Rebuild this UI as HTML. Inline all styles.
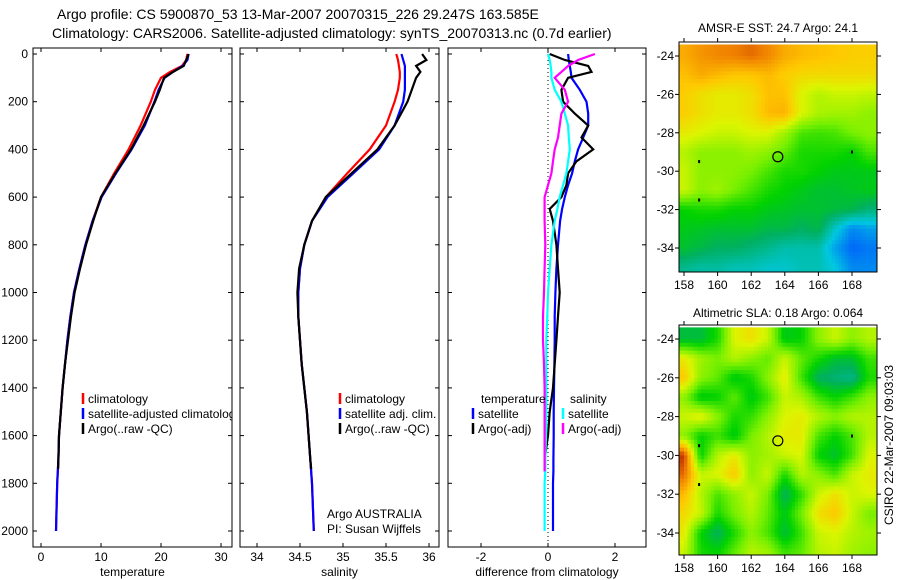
<!DOCTYPE html>
<html><head><meta charset="utf-8"><style>
body{margin:0;background:#fff;}
svg{display:block;font-family:"Liberation Sans",sans-serif;}
</style></head><body>
<svg id="c" width="900" height="580" viewBox="0 0 900 580" xmlns="http://www.w3.org/2000/svg">
<text x="57" y="19" font-size="14">Argo profile: CS 5900870_53 13-Mar-2007 20070315_226 29.247S 163.585E</text>
<text x="52" y="38" font-size="14">Climatology: CARS2006. Satellite-adjusted climatology: synTS_20070313.nc (0.7d earlier)</text>
<text x="778" y="32" font-size="12" text-anchor="middle">AMSR-E SST: 24.7 Argo: 24.1</text>
<text x="778" y="317" font-size="12" text-anchor="middle">Altimetric SLA: 0.18 Argo: 0.064</text>
<text transform="translate(893,445) rotate(-90)" font-size="12" text-anchor="middle">CSIRO 22-Mar-2007 09:03:03</text>
<g id="g"></g>
</svg>
<script>
// ---- profile data ----
const depths=[0,25,50,75,100,150,200,300,400,500,600,700,800,900,1000,1100,1200,1300,1400,1500,1600,1700,1800,1900,2000];
const argoDepths=[0,25,50,75,100,150,200,300,400,500,600,700,800,900,1000,1100,1200,1300,1400,1500,1600,1700,1740];
const tempClim=[24.4,24.2,23.5,21.5,20.0,19.0,18.3,16.6,14.6,12.2,10.0,8.6,7.4,6.4,5.5,4.9,4.4,4.0,3.6,3.3,3.0,2.9,2.7,2.6,2.5];
const tempSat=[24.6,24.4,23.6,22.0,20.6,19.6,18.9,17.3,15.1,12.5,10.1,8.6,7.4,6.4,5.5,4.9,4.4,4.0,3.6,3.3,3.0,2.9,2.7,2.6,2.5];
const tempArgo=[24.6,24.2,23.8,22.0,20.5,19.8,19.0,17.1,15.0,12.4,10.0,8.7,7.5,6.5,5.6,5.0,4.5,4.0,3.6,3.3,3.0,2.9,2.85];
const salClim=[35.62,35.64,35.65,35.66,35.66,35.64,35.6,35.5,35.31,35.05,34.8,34.64,34.55,34.5,34.48,34.48,34.5,34.52,34.55,34.58,34.6,34.62,34.64,34.65,34.66];
const salSat=[35.68,35.7,35.72,35.72,35.72,35.72,35.7,35.6,35.42,35.12,34.82,34.64,34.55,34.5,34.48,34.48,34.5,34.52,34.55,34.58,34.6,34.62,34.64,34.65,34.66];
const salArgo=[35.92,35.97,35.85,35.9,35.85,35.8,35.75,35.6,35.4,35.1,34.8,34.64,34.55,34.49,34.47,34.48,34.5,34.52,34.55,34.58,34.6,34.62,34.63];
const diffDepths=[0,25,50,75,100,150,200,250,300,350,400,450,500,550,600,650,700,800,900,1000,1100,1200,1300,1400,1500,1600,1700,1750,1800,1900,2000];
const dTempSat=[0.6,0.62,0.65,0.68,0.7,0.95,1.15,1.2,1.2,1.05,0.9,0.8,0.72,0.6,0.5,0.42,0.36,0.3,0.25,0.22,0.2,0.2,0.19,0.18,0.17,0.17,0.16,0.16,0.15,0.15,0.15];
const dTempArgo=[0.05,0.5,1.2,1.3,0.6,0.4,0.45,0.8,1.2,1.0,1.35,0.85,0.6,0.55,0.4,0.05,0.15,0.25,0.3,0.35,0.3,0.25,0.2,0.15,0.05,0.0,-0.1,-0.1,null,null,null];
const dSalSat=[0.0,0.05,0.08,0.1,0.1,0.2,0.4,0.5,0.6,0.62,0.65,0.6,0.55,0.45,0.35,0.28,0.2,0.1,0.05,0.0,-0.02,-0.05,-0.05,-0.05,-0.05,-0.06,-0.08,-0.08,-0.1,-0.1,-0.1];
const dSalArgo=[1.4,0.9,0.6,0.4,0.2,0.5,0.6,0.4,0.35,0.3,0.2,0.15,0.1,0.0,-0.1,-0.1,-0.1,-0.08,-0.1,-0.12,-0.15,-0.15,-0.12,-0.1,-0.1,-0.1,-0.1,-0.1,null,null,null];
const depthTicks=[0,200,400,600,800,1000,1200,1400,1600,1800,2000];
const tempTicks=[0,10,20,30];
const salTicks=[34,34.5,35,35.5,36];
const diffTicks=[-2,0,2];
// ---- map data (colormap index 0..1), rows lat -24..-35, cols lon 158..169 ----
const mapLons=[158,159,160,161,162,163,164,165,166,167,168,169];
const mapLats=[-24,-25,-26,-27,-28,-29,-30,-31,-32,-33,-34,-35];
const sstGrid=[
[0.82,0.85,0.87,0.88,0.9,0.87,0.82,0.8,0.79,0.78,0.77,0.77],
[0.79,0.82,0.8,0.78,0.78,0.8,0.77,0.75,0.75,0.75,0.75,0.75],
[0.77,0.74,0.72,0.72,0.74,0.79,0.79,0.7,0.66,0.68,0.68,0.67],
[0.77,0.74,0.72,0.72,0.74,0.8,0.81,0.7,0.65,0.64,0.64,0.62],
[0.72,0.7,0.68,0.68,0.7,0.7,0.64,0.56,0.55,0.56,0.6,0.62],
[0.66,0.62,0.62,0.62,0.64,0.62,0.58,0.52,0.52,0.52,0.5,0.56],
[0.68,0.62,0.62,0.62,0.6,0.56,0.52,0.52,0.5,0.48,0.48,0.48],
[0.68,0.62,0.64,0.6,0.56,0.52,0.5,0.48,0.46,0.46,0.47,0.48],
[0.5,0.52,0.52,0.5,0.5,0.48,0.47,0.46,0.46,0.45,0.44,0.4],
[0.48,0.47,0.46,0.46,0.46,0.44,0.44,0.42,0.44,0.32,0.22,0.25],
[0.46,0.44,0.42,0.42,0.4,0.38,0.35,0.35,0.35,0.25,0.18,0.2],
[0.38,0.36,0.36,0.34,0.34,0.32,0.32,0.34,0.34,0.3,0.22,0.22]];
const slaGrid=[
[0.45,0.45,0.52,0.7,0.74,0.68,0.48,0.5,0.62,0.68,0.62,0.66],
[0.72,0.64,0.6,0.66,0.62,0.58,0.68,0.58,0.52,0.46,0.46,0.55],
[0.78,0.62,0.58,0.48,0.52,0.62,0.72,0.55,0.42,0.4,0.38,0.52],
[0.62,0.48,0.5,0.58,0.48,0.55,0.68,0.65,0.55,0.5,0.55,0.62],
[0.68,0.72,0.62,0.52,0.54,0.62,0.7,0.72,0.66,0.62,0.66,0.66],
[0.62,0.5,0.55,0.48,0.6,0.66,0.72,0.72,0.56,0.5,0.56,0.66],
[0.95,0.5,0.66,0.72,0.62,0.64,0.68,0.7,0.5,0.46,0.55,0.7],
[0.9,0.68,0.7,0.78,0.62,0.68,0.52,0.66,0.62,0.56,0.68,0.72],
[0.8,0.66,0.56,0.62,0.68,0.6,0.42,0.54,0.68,0.74,0.68,0.7],
[0.75,0.68,0.52,0.6,0.66,0.58,0.48,0.6,0.74,0.78,0.68,0.6],
[0.72,0.5,0.42,0.52,0.62,0.56,0.45,0.55,0.68,0.7,0.66,0.64],
[0.68,0.52,0.5,0.58,0.66,0.64,0.55,0.58,0.66,0.68,0.64,0.62]];
const lonTicks=[158,160,162,164,166,168];
const latTicks=[-24,-26,-28,-30,-32,-34];
const argoLon=163.585, argoLat=-29.247;

const NS="http://www.w3.org/2000/svg";
const G=document.getElementById('g');
function mk(t,a,p){const e=document.createElementNS(NS,t);for(const k in a)e.setAttribute(k,a[k]);(p||G).appendChild(e);return e;}
const yD=z=>54+z*0.2385;
const panels=[
 {name:'temperature',x0:33,x1:232,fx:v=>41+v*6,ticks:tempTicks,label:'temperature'},
 {name:'salinity',x0:240,x1:439,fx:v=>257+(v-34)*86,ticks:salTicks,label:'salinity'},
 {name:'difference',x0:448,x1:646,fx:v=>548+v*33.5,ticks:diffTicks,label:'difference from climatology'}];
const PT=48,PB=547;
panels.forEach((p,i)=>{
 const f=mk('rect',{x:p.x0,y:PT,width:p.x1-p.x0,height:PB-PT,fill:'none',stroke:'#000','stroke-width':1});
 
 
 p.ticks.forEach(t=>{const x=p.fx(t);
  mk('line',{x1:x,x2:x,y1:PB,y2:PB-4,stroke:'#000'});mk('line',{x1:x,x2:x,y1:PT,y2:PT+4,stroke:'#000'});
  const tx=mk('text',{x:x,y:PB+14,'font-size':12,'text-anchor':'middle'});tx.textContent=t;
  
  });
 const xl=mk('text',{x:(p.x0+p.x1)/2,y:576,'font-size':12,'text-anchor':'middle'});xl.textContent=p.label;
 
 
 depthTicks.forEach(d=>{const y=yD(d);
  mk('line',{x1:p.x0,x2:p.x0+4,y1:y,y2:y,stroke:'#000'});mk('line',{x1:p.x1,x2:p.x1-4,y1:y,y2:y,stroke:'#000'});
  if(i===0){const tl=mk('text',{x:28,y:y+4,'font-size':12,'text-anchor':'end'});tl.textContent=d;
   
   }});
});
const z0=panels[2].fx(0);
const zl=mk('line',{x1:z0,x2:z0,y1:PT,y2:PB,stroke:'#000','stroke-dasharray':'1,3'});


function series(p,ds,vals,color,name){
 let pts=[];ds.forEach((d,i)=>{if(vals[i]!==null&&vals[i]!==undefined)pts.push(p.fx(vals[i]).toFixed(1)+','+yD(d).toFixed(1));});
 const l=mk('polyline',{points:pts.join(' '),fill:'none',stroke:color,'stroke-width':2.2});
 
 }
series(panels[0],depths,tempClim,'#f00','temp-climatology-line');
series(panels[0],depths,tempSat,'#00f','temp-satellite-line');
series(panels[0],argoDepths,tempArgo,'#000','temp-argo-line');
series(panels[1],depths,salClim,'#f00','sal-climatology-line');
series(panels[1],depths,salSat,'#00f','sal-satellite-line');
series(panels[1],argoDepths,salArgo,'#000','sal-argo-line');
series(panels[2],diffDepths,dTempSat,'#00f','diff-temp-satellite-line');
series(panels[2],diffDepths,dTempArgo,'#000','diff-temp-argo-line');
series(panels[2],diffDepths,dSalSat,'#0ff','diff-sal-satellite-line');
series(panels[2],diffDepths,dSalArgo,'#f0f','diff-sal-argo-line');
function leg(x,y,color,txt,clip){
 const b=mk('line',{x1:x,x2:x,y1:y-10,y2:y+1,stroke:color,'stroke-width':2.5});
 
 
 const t=mk('text',{x:x+5,y:y,'font-size':12});t.textContent=txt;
 
 
 if(clip)t.setAttribute('clip-path','url(#p1clip)');}
const defs=mk('defs',{});const cp=mk('clipPath',{id:'p1clip'},defs);mk('rect',{x:33,y:48,width:199,height:499},cp);
leg(83,403,'#f00','climatology');leg(83,418,'#00f','satellite-adjusted climatology',true);leg(83,433,'#000','Argo(..raw -QC)');
leg(340,403,'#f00','climatology');leg(340,418,'#00f','satellite adj. clim.');leg(340,433,'#000','Argo(..raw -QC)');
[['Argo AUSTRALIA',518],['PI: Susan Wijffels',533]].forEach(a=>{const t=mk('text',{x:327,y:a[1],'font-size':12});t.textContent=a[0];
 
 });
[['temperature',481],['salinity',570]].forEach(a=>{const t=mk('text',{x:a[1],y:403,'font-size':12});t.textContent=a[0];
 
 });
leg(473,418,'#00f','satellite');leg(473,433,'#000','Argo(-adj)');
leg(563,418,'#0ff','satellite');leg(563,433,'#f0f','Argo(-adj)');
// maps
const stops=[[0,[0,0,176]],[0.15,[0,80,255]],[0.3,[0,200,224]],[0.42,[0,176,96]],[0.5,[0,210,0]],[0.6,[120,240,0]],[0.7,[220,245,0]],[0.78,[255,200,0]],[0.88,[240,128,0]],[1,[160,0,0]]];
function cmap(v){v=Math.max(0,Math.min(1,v));for(let i=1;i<stops.length;i++){if(v<=stops[i][0]){const a=stops[i-1],b=stops[i],t=(v-a[0])/(b[0]-a[0]);
 return 'rgb('+a[1].map((c,k)=>Math.round(c+(b[1][k]-c)*t)).join(',')+')';}}return 'rgb(160,0,0)';}
function sample(grid,lo,la){
 const nc=mapLons.length,nr=mapLats.length;
 let c=lo-mapLons[0], r=mapLats[0]-la;
 c=Math.max(0,Math.min(nc-1,c)); r=Math.max(0,Math.min(nr-1,r));
 const c0=Math.min(nc-2,Math.floor(c)), r0=Math.min(nr-2,Math.floor(r));
 const fc=c-c0, fr=r-r0;
 return grid[r0][c0]*(1-fc)*(1-fr)+grid[r0][c0+1]*fc*(1-fr)+grid[r0+1][c0]*(1-fc)*fr+grid[r0+1][c0+1]*fc*fr;}
function drawMap(name,grid,bx0,by0,bx1,by1,lx,ly,sy){
 const fx=l=>lx+(l-158)*16.8, fy=l=>ly+(-24-l)*sy;
 const id=name+'clip';const c=mk('clipPath',{id:id},defs);mk('rect',{x:bx0,y:by0,width:bx1-bx0,height:by1-by0},c);
 const g=mk('g',{'clip-path':'url(#'+id+')'});
 
 
 const step=0.2;
 for(let la=mapLats[0]+0.6;la>mapLats[mapLats.length-1]-0.8;la-=step){
  for(let lo=mapLons[0]-0.6;lo<mapLons[mapLons.length-1]+0.8;lo+=step){
   const cell=mk('rect',{x:fx(lo).toFixed(1),y:fy(la).toFixed(1),width:(16.8*step+0.6).toFixed(1),height:(sy*step+0.6).toFixed(1),fill:cmap(sample(grid,lo+step/2,la-step/2))},g);
   
   }}
 const f=mk('rect',{x:bx0,y:by0,width:bx1-bx0,height:by1-by0,fill:'none',stroke:'#000'});
 
 
 lonTicks.forEach(l=>{const x=fx(l);mk('line',{x1:x,x2:x,y1:by1,y2:by1+4,stroke:'#000'});mk('line',{x1:x,x2:x,y1:by0,y2:by0-4,stroke:'#000'});
  const t=mk('text',{x:x,y:by1+17,'font-size':12,'text-anchor':'middle'});t.textContent=l;
  
  });
 latTicks.forEach(l=>{const y=fy(l);mk('line',{x1:bx0,x2:bx0-4,y1:y,y2:y,stroke:'#000'});mk('line',{x1:bx1,x2:bx1+4,y1:y,y2:y,stroke:'#000'});
  const t=mk('text',{x:bx0-5,y:y+4,'font-size':12,'text-anchor':'end'});t.textContent=l;
  
  });
 const m=mk('circle',{cx:fx(argoLon),cy:fy(argoLat),r:5,fill:'none',stroke:'#000','stroke-width':1.2});
 
 
 [[158.9,-29.5],[158.9,-31.5],[168,-29]].forEach(p=>{const d=mk('rect',{x:fx(p[0])-1,y:fy(p[1])-1.5,width:2,height:3,fill:'#000'});
  
  });
}
drawMap('sst-map',sstGrid,679,42,877,272,684,56,19.2);
drawMap('sla-map',slaGrid,679,325,877,555,684,339,19.4);
</script>
</body></html>
